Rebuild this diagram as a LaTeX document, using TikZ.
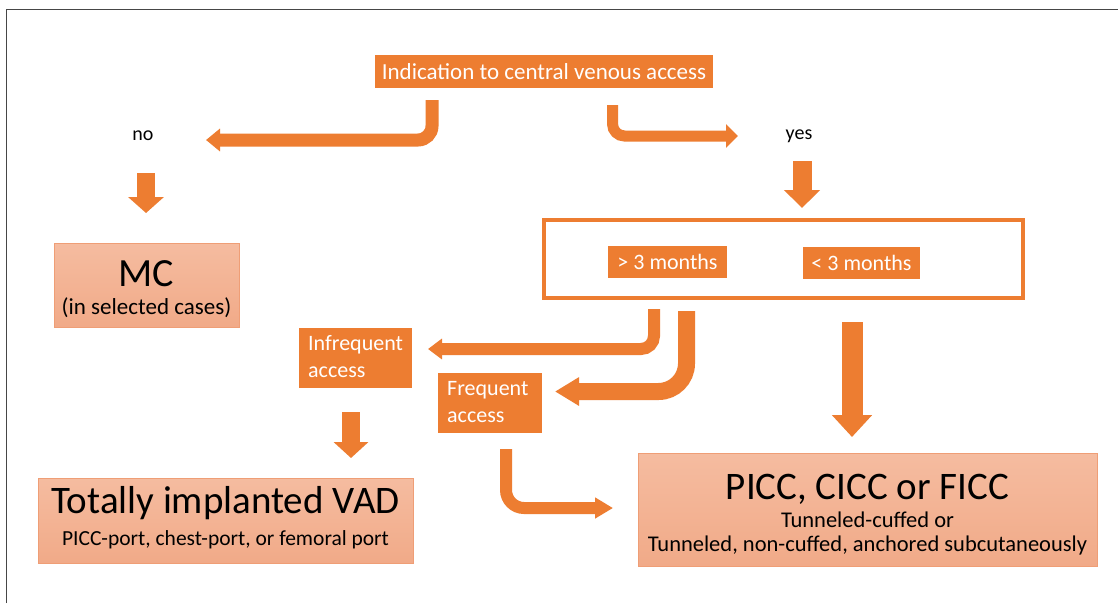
\documentclass[tikz,border=0pt]{standalone}
\usepackage{fontspec}
\setmainfont{Carlito}
\usetikzlibrary{arrows.meta}
\definecolor{org}{RGB}{237,125,49}
\definecolor{salA}{RGB}{245,188,160}
\definecolor{salB}{RGB}{241,170,136}
\definecolor{salE}{RGB}{239,158,118}
\definecolor{frame}{RGB}{70,70,70}
\begin{document}
\begin{tikzpicture}[x=1pt,y=-1pt,
  obox/.style={fill=org, draw=none, inner sep=0pt, text=white},
  sbox/.style={top color=salA, bottom color=salB, draw=salE, line width=1pt, inner sep=0pt},
  wtxt/.style={text=white, inner sep=0pt, font=\fontsize{22}{25}\selectfont},
  btxt/.style={text=black, inner sep=0pt},
  fat/.style={draw=org, line width=#1, line cap=butt}]
\useasboundingbox (0,0) rectangle (1118,603);
\fill[white] (0,0) rectangle (1118,603);
\draw[frame, line width=1.3pt] (6.5,603) -- (6.5,9.5) -- (1118,9.5);

% boxes
\node[obox, minimum width=338pt, minimum height=33pt, font=\fontsize{23}{26}\selectfont] (top) at (544,71.5) {Indication to central venous access};
\node[btxt, font=\fontsize{20}{23}\selectfont] (no) at (143,136) {no};
\node[btxt, font=\fontsize{20}{23}\selectfont] (yes) at (799,136) {yes};

\node[sbox, minimum width=185pt, minimum height=84pt] (mc) at (146.5,285) {};
\node[btxt, font=\fontsize{40}{44}\selectfont] (mct) at (146.5,274) {MC};
\node[btxt, font=\fontsize{23}{26}\selectfont] (mcs) at (146.5,308) {(in selected cases)};

\node[draw=org, line width=4pt, minimum width=479pt, minimum height=78pt, inner sep=0pt] (dur) at (783.5,259) {};
\node[obox, minimum width=119pt, minimum height=32pt, font=\fontsize{22}{25}\selectfont] (gt) at (667.5,261.5) {> 3 months};
\node[obox, minimum width=117pt, minimum height=32pt, font=\fontsize{22}{25}\selectfont] (lt) at (861.5,262.5) {< 3 months};

\node[obox, minimum width=113pt, minimum height=60pt] (inf) at (355.5,358) {};
\node[wtxt, anchor=west] (inf1) at (308,345) {Infrequent};
\node[wtxt, anchor=west] (inf2) at (308,372) {access};

\node[obox, minimum width=104pt, minimum height=60pt] (frq) at (490,403) {};
\node[wtxt, anchor=west] (frq1) at (447,390) {Frequent};
\node[wtxt, anchor=west] (frq2) at (447,417) {access};

\node[sbox, minimum width=375pt, minimum height=85pt] (vad) at (225.5,520.5) {};
\node[btxt, font=\fontsize{39}{42}\selectfont] (vadt) at (225.5,503) {Totally implanted VAD};
\node[btxt, font=\fontsize{21.5}{24}\selectfont] (vads) at (225.5,540) {PICC-port, chest-port, or femoral port};

\node[sbox, minimum width=459pt, minimum height=113pt] (picc) at (867.5,509.5) {};
\node[btxt, font=\fontsize{39}{42}\selectfont] (picct) at (867.5,489) {PICC, CICC or FICC};
\node[btxt, font=\fontsize{22.5}{25}\selectfont] (piccs1) at (867.5,520) {Tunneled-cuffed or};
\node[btxt, font=\fontsize{22.5}{25}\selectfont] (piccs2) at (867.5,545) {Tunneled, non-cuffed, anchored subcutaneously};

% arrow end points
\coordinate (a1s) at (432,100);   \coordinate (a1e) at (206,140);
\coordinate (a2s) at (612.5,105); \coordinate (a2e) at (738,136);
\coordinate (a3s) at (146,173);   \coordinate (a3e) at (146,213);
\coordinate (a4s) at (802,161);   \coordinate (a4e) at (802,208);
\coordinate (a5s) at (654,309);   \coordinate (a5e) at (428,349);
\coordinate (a6s) at (686.5,311); \coordinate (a6e) at (555,391.5);
\coordinate (a7s) at (852,322);   \coordinate (a7e) at (852,437);
\coordinate (a8s) at (351,412);   \coordinate (a8e) at (351,458);
\coordinate (a9s) at (506,449);   \coordinate (a9e) at (613,508);

\draw[fat=13pt, rounded corners=14pt, -{Triangle[length=14pt,width=22pt]}] (a1s) |- (a1e);
\draw[fat=11pt, rounded corners=12pt, -{Triangle[length=12pt,width=23pt]}] (a2s) |- (a2e);
\draw[fat=18pt, -{Triangle[length=16pt,width=35pt]}] (a3s) -- (a3e);
\draw[fat=19pt, -{Triangle[length=18pt,width=35pt]}] (a4s) -- (a4e);
\draw[fat=12pt, rounded corners=13pt, -{Triangle[length=14pt,width=20pt]}] (a5s) |- (a5e);
\draw[fat=17pt, rounded corners=28pt, -{Triangle[length=24pt,width=27pt]}] (a6s) |- (a6e);
\draw[fat=21pt, -{Triangle[length=22pt,width=39pt]}] (a7s) -- (a7e);
\draw[fat=18pt, -{Triangle[length=16pt,width=34pt]}] (a8s) -- (a8e);
\draw[fat=12pt, rounded corners=18pt, -{Triangle[length=18pt,width=20pt]}] (a9s) |- (a9e);
\end{tikzpicture}
\end{document}
